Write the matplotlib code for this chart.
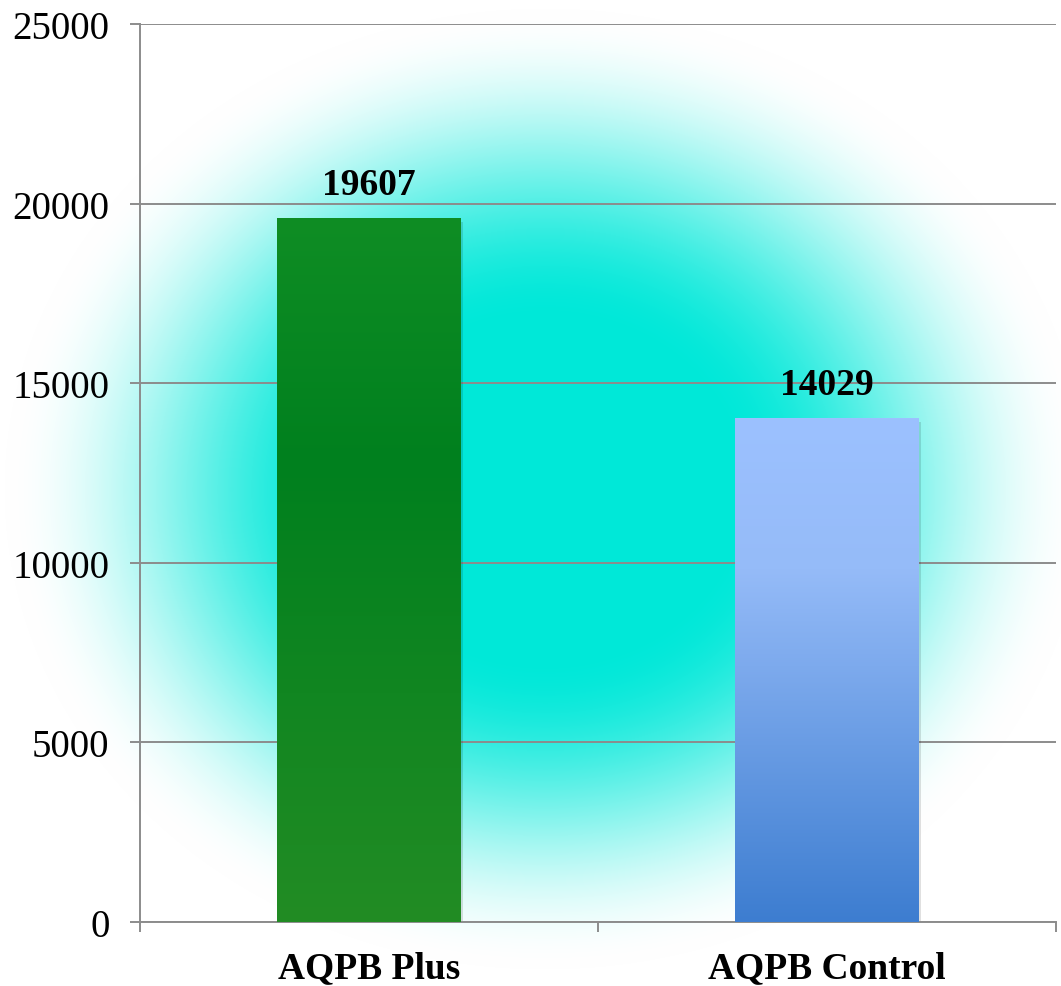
import numpy as np
from matplotlib import pyplot as plt
from matplotlib.colors import LinearSegmentedColormap

# sample totals for the two groups
groups = ['AQPB Plus', 'AQPB Control']
totals = [19607, 14029]
y_ticks = [0, 5000, 10000, 15000, 20000, 25000]

plt.rcParams['font.family'] = ['Liberation Serif', 'DejaVu Serif']

fig = plt.figure(figsize=(10.61, 9.87), dpi=100)

#soft cyan glow behind the whole chart
bg = fig.add_axes([0, 0, 1, 1], zorder=0)
bg.set_axis_off()
w, h = 1061, 987
xx, yy = np.meshgrid(np.arange(w), np.arange(h))
r = np.sqrt(((xx - 545) / 450.0) ** 2 + ((yy - 490) / 400.0) ** 2)
a = np.clip((1.2 - r) / 0.78, 0, 1)
a = a * a * (3 - 2 * a)
cyan = np.array([0.0, 0.91, 0.85])
white = np.array([1.0, 1.0, 1.0])
img = white * (1 - a[..., None]) + cyan * a[..., None]
bg.imshow(img, extent=(0, 1, 0, 1), aspect='auto', origin='upper')
bg.set_xlim(0, 1)
bg.set_ylim(0, 1)

ax = fig.add_axes([140 / w, 64 / h, 916 / w, 898 / h], zorder=1)
ax.patch.set_alpha(0)

x = np.arange(len(groups))
bars = ax.bar(x, totals, width=0.4, color='none', zorder=3)

#vertical gradients for each bar (top -> bottom)
green = LinearSegmentedColormap.from_list(
    'g', [(0, '#0f8d24'), (0.35, '#00801e'), (1, '#228c24')])
blue = LinearSegmentedColormap.from_list(
    'b', [(0, '#9cc1ff'), (0.3, '#95bbf8'), (1, '#3d7dd0')])
grad = np.linspace(0, 1, 256).reshape(-1, 1)
for bar, cmap in zip(bars, [green, blue]):
    x0 = bar.get_x()
    x1 = x0 + bar.get_width()
    top = bar.get_height()
    # faint shadow under the bar
    ax.bar(bar.get_x() + bar.get_width() / 2 + 0.006, top, width=bar.get_width(),
           bottom=-120, color='black', alpha=0.12, zorder=2)
    im = ax.imshow(grad, cmap=cmap, extent=(x0, x1, 0, top), aspect='auto',
                   origin='upper', zorder=3)
    im.set_clip_path(bar)

#value labels above bars
for xi, val in zip(x, totals):
    ax.text(xi, val + 450, str(val), ha='center', va='bottom',
            fontsize=27, fontweight='bold', color='black', zorder=4)

ax.set_xlim(-0.5, 1.5)
ax.set_ylim(0, 25000)
ax.set_yticks(y_ticks)
ax.set_yticklabels([str(t) for t in y_ticks])
ax.set_xticks(x)
ax.set_xticklabels(groups, fontweight='bold')
ax.set_xticks([-0.5, 0.5, 1.5], minor=True)

#format plot
ax.grid(axis='y', color='#8c8c8c', linewidth=1.4, zorder=1)
ax.set_axisbelow(True)
for side in ['top', 'right']:
    ax.spines[side].set_visible(False)
for side in ['left', 'bottom']:
    ax.spines[side].set_color('#8c8c8c')
    ax.spines[side].set_linewidth(1.4)
ax.tick_params(axis='y', length=7, width=1.4, color='#8c8c8c', pad=15,
               labelsize=28)
ax.tick_params(axis='x', which='major', length=0, pad=20, labelsize=27)
ax.tick_params(axis='x', which='minor', length=7, width=1.4, color='#8c8c8c')

plt.savefig('out.png', dpi=100)
